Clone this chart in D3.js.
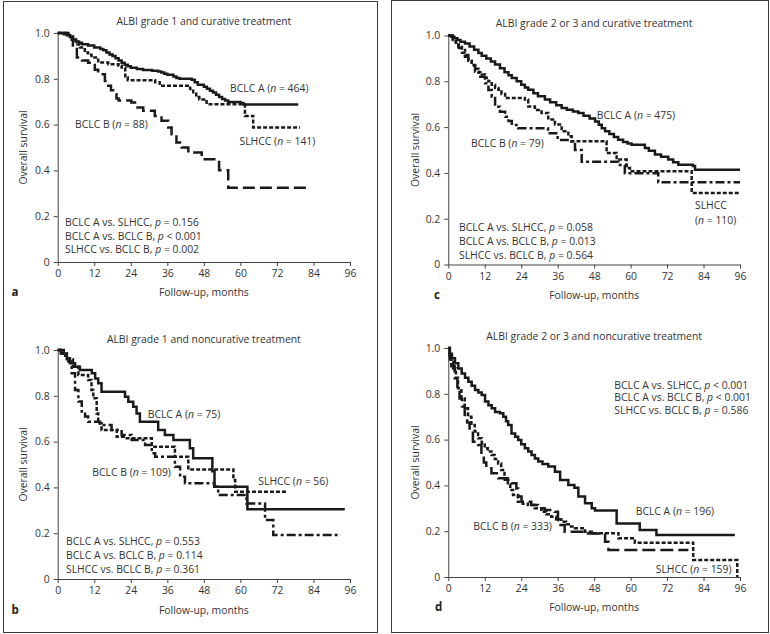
<!DOCTYPE html>
<html><head><meta charset="utf-8">
<script src="https://cdn.jsdelivr.net/npm/d3@7"></script>
<style>
html,body{margin:0;padding:0;background:#fff;}
svg text{font-family:"Open Sans",sans-serif;}
</style>
</head><body>
<svg id="chart" width="770" height="634"></svg>
<script>
// ---------- data ----------
const xTicks = [0, 12, 24, 36, 48, 60, 72, 84, 96];
const yTicks = [0, 0.2, 0.4, 0.6, 0.8, 1.0];
const yTickLabels = ["0", "0.2", "0.4", "0.6", "0.8", "1.0"];
const panelLetters = ["a", "b", "c", "d"];
const panelTitles = [
  "ALBI grade 1 and curative treatment",
  "ALBI grade 1 and noncurative treatment",
  "ALBI grade 2 or 3 and curative treatment",
  "ALBI grade 2 or 3 and noncurative treatment"
];
const groupNames = ["BCLC A", "SLHCC", "BCLC B"];
const comparisons = ["BCLC A vs. SLHCC", "BCLC A vs. BCLC B", "SLHCC vs. BCLC B"];
// n per group [BCLC A, SLHCC, BCLC B]
const nA = [464, 141, 88];
const nB = [75, 56, 109];
const nC = [475, 110, 79];
const nD = [196, 159, 333];
// p-values [A vs SLHCC, A vs B, SLHCC vs B]
const pA = ["= 0.156", "< 0.001", "= 0.002"];
const pB = ["= 0.553", "= 0.114", "= 0.361"];
const pC = ["= 0.058", "= 0.013", "= 0.564"];
const pD = ["< 0.001", "< 0.001", "= 0.586"];

// Kaplan-Meier curves: [month, survival]
const aBclcA = [[0,1],[2,0.995],[3,0.99],[4,0.982],[5,0.972],[6,0.963],[7,0.957],[8,0.951],[10,0.945],[12,0.937],[14,0.93],[15,0.925],[16,0.915],[17,0.906],[18,0.9],[19,0.89],[20,0.88],[21,0.87],[22,0.861],[23,0.855],[24,0.848],[26,0.843],[28,0.838],[31,0.835],[33,0.832],[34,0.827],[35,0.822],[36,0.818],[38,0.81],[39,0.804],[40,0.8],[44,0.796],[45,0.785],[46,0.774],[48,0.765],[49,0.757],[50,0.748],[51,0.74],[52,0.73],[53,0.72],[54,0.712],[55,0.705],[56,0.699],[60,0.694],[61,0.688],[79,0.688]];
const aSlhcc = [[0,1],[3,0.99],[4.6,0.97],[6,0.95],[7.3,0.937],[8.9,0.915],[10,0.905],[11.1,0.893],[13.3,0.871],[16.6,0.864],[20,0.857],[21,0.849],[22.2,0.806],[23,0.794],[32,0.785],[33.5,0.77],[43.5,0.755],[44.5,0.735],[45.5,0.72],[46.5,0.71],[48.9,0.689],[61.5,0.638],[64.2,0.587],[79.6,0.587]];
const aBclcB = [[0,1],[4.5,0.985],[5,0.937],[6.3,0.893],[8,0.88],[10,0.87],[12.2,0.84],[13.3,0.82],[15.5,0.79],[16.6,0.77],[17.5,0.75],[18.2,0.733],[19.3,0.714],[20,0.705],[24.2,0.696],[25.4,0.675],[28.1,0.66],[31.9,0.638],[34.1,0.617],[36.3,0.587],[37.4,0.558],[39,0.522],[40.7,0.5],[42.9,0.478],[47.3,0.449],[53,0.401],[56,0.324],[81.8,0.324]];

const bBclcA = [[0,1],[1,0.985],[3,0.964],[4,0.942],[5.7,0.927],[7.3,0.913],[11.2,0.898],[12.3,0.876],[13.3,0.855],[14.4,0.818],[22.1,0.796],[23.2,0.774],[24.8,0.752],[25.9,0.723],[27,0.687],[33,0.651],[35.2,0.629],[38,0.607],[43.4,0.571],[44.5,0.527],[50.8,0.47],[51.5,0.403],[62.3,0.305],[94.3,0.305]];
const bSlhcc = [[0,1],[1.5,0.985],[3,0.96],[5,0.927],[6.8,0.891],[10,0.869],[11.1,0.825],[11.7,0.789],[12.8,0.723],[13.3,0.68],[14.4,0.651],[19.4,0.621],[22.1,0.615],[30.9,0.578],[38.5,0.534],[42.9,0.478],[57.7,0.432],[58.3,0.381],[75.2,0.381]];
const bBclcB = [[0,1],[2,0.975],[3.5,0.95],[4.6,0.898],[5.7,0.825],[6.8,0.775],[7.9,0.731],[9,0.71],[10,0.687],[13.9,0.672],[17.7,0.651],[21,0.629],[24.3,0.607],[28.7,0.585],[30.9,0.549],[32,0.534],[38.5,0.49],[40.2,0.447],[41.8,0.418],[51.4,0.403],[52.7,0.367],[62,0.33],[68.1,0.258],[70.8,0.192],[93,0.192]];

const cBclcA = [[0,1],[1,0.995],[2,0.988],[3,0.98],[4,0.973],[5.5,0.965],[7,0.952],[8.5,0.938],[9.9,0.924],[11,0.912],[12.5,0.9],[14,0.886],[15.4,0.873],[17,0.857],[18.5,0.84],[19.8,0.826],[20.9,0.814],[22.5,0.8],[24,0.785],[25.2,0.773],[26.3,0.763],[28,0.748],[29.5,0.735],[31.8,0.72],[33.5,0.708],[35.5,0.695],[37.3,0.683],[39,0.676],[41,0.668],[42.8,0.662],[44.5,0.65],[46.5,0.638],[48.3,0.625],[49.5,0.61],[50.5,0.595],[51.6,0.582],[53,0.57],[54.5,0.557],[55.9,0.545],[57.5,0.535],[59,0.528],[60.3,0.523],[64.7,0.509],[66,0.497],[68,0.48],[70,0.47],[72.4,0.458],[74,0.447],[75.7,0.436],[80.5,0.43],[81.2,0.414],[96,0.414]];
const cSlhcc = [[0,1],[1.5,0.98],[2.5,0.96],[3.3,0.95],[4.5,0.925],[5.5,0.907],[6.6,0.89],[7.7,0.871],[8.8,0.855],[9.9,0.84],[11,0.83],[12.1,0.815],[13.2,0.8],[14.3,0.785],[15.4,0.771],[16.5,0.763],[17.5,0.745],[18.7,0.727],[25.2,0.72],[26.3,0.69],[28.5,0.675],[30.7,0.662],[32.9,0.633],[35.1,0.611],[37.3,0.582],[39.5,0.56],[40.6,0.538],[52.1,0.487],[55.4,0.458],[58.7,0.421],[59.8,0.407],[80.1,0.312],[96,0.312]];
const cBclcB = [[0,1],[1.5,0.975],[2.5,0.96],[3.5,0.945],[4.4,0.937],[5.5,0.915],[6.6,0.893],[7.7,0.87],[8.8,0.842],[10,0.82],[12.1,0.791],[13.2,0.762],[14.3,0.733],[15.4,0.689],[17,0.667],[18.7,0.645],[19.8,0.627],[20.9,0.609],[23,0.595],[32.8,0.573],[36,0.544],[40.5,0.537],[41.7,0.5],[43.9,0.449],[56,0.434],[58.1,0.398],[69.1,0.359],[96,0.359]];

const dBclcA = [[0,1],[0.5,0.975],[1.2,0.955],[2.2,0.933],[3.3,0.91],[4.4,0.889],[5.5,0.87],[6.6,0.853],[7.7,0.835],[8.8,0.817],[9.9,0.806],[11,0.795],[12.1,0.766],[13.2,0.75],[14.3,0.737],[15.4,0.72],[17,0.715],[18.1,0.7],[19,0.68],[19.7,0.664],[20.8,0.627],[22,0.612],[23,0.598],[24,0.58],[25.2,0.562],[26.3,0.548],[27.4,0.533],[28.5,0.518],[29.6,0.504],[31,0.493],[32.9,0.482],[35.1,0.46],[36.8,0.424],[39.5,0.402],[41.5,0.39],[42.8,0.351],[45,0.322],[47.2,0.3],[48.3,0.29],[55.4,0.234],[63,0.205],[68.5,0.183],[94.3,0.183]];
const dSlhcc = [[0,1],[0.5,0.97],[1,0.94],[1.6,0.911],[2.5,0.87],[3.2,0.824],[4.3,0.78],[5.4,0.737],[6.5,0.7],[7.6,0.664],[8.7,0.635],[9.8,0.606],[11,0.585],[12,0.562],[13,0.548],[14.2,0.533],[15.3,0.515],[16.4,0.496],[17.4,0.467],[18.5,0.431],[19.6,0.402],[20.4,0.38],[21.3,0.358],[22.9,0.329],[24.5,0.32],[26.2,0.314],[28.4,0.3],[30.6,0.285],[32.2,0.274],[33.9,0.263],[35.5,0.252],[37.2,0.241],[38.8,0.23],[40.4,0.22],[41.7,0.213],[45,0.198],[47.2,0.191],[56,0.169],[61.4,0.15],[80.6,0.074],[95,0.074],[95.1,0]];
const dBclcB = [[0,1],[0.5,0.95],[1,0.92],[2.1,0.868],[3,0.82],[3.7,0.78],[4.5,0.745],[5.4,0.707],[6.2,0.675],[7,0.649],[8.1,0.591],[9.8,0.576],[10.9,0.533],[11.7,0.5],[12.5,0.475],[14.2,0.453],[16.4,0.431],[18.6,0.425],[20.7,0.409],[22.4,0.387],[23,0.351],[24.1,0.329],[27.3,0.314],[29.5,0.3],[31.7,0.293],[35,0.285],[36.1,0.227],[38.3,0.198],[46,0.19],[51.6,0.154],[52.7,0.118],[79,0.118]];

// ---------- layout / style ----------
const svg = d3.select("#chart");
const ink = "#1a1a1a", textCol = "#333", axisCol = "#444";
const fs = 10.4;
const dashShort = "4,2", dashLong = "12,5", dashDot = "9,3,3,3";

// column frames
svg.append("rect").attr("x", 3.5).attr("y", 1.5).attr("width", 374).attr("height", 631)
  .attr("fill", "none").attr("stroke", "#3a3a3a").attr("stroke-width", 1);
svg.append("rect").attr("x", 391.5).attr("y", 0.5).attr("width", 377).attr("height", 632)
  .attr("fill", "none").attr("stroke", "#3a3a3a").attr("stroke-width", 1);

const panels = [
  { letter: panelLetters[0], title: panelTitles[0], xr: [57.7, 350], yr: [262, 33],
    series: [aBclcA, aSlhcc, aBclcB], dash: [null, dashShort, dashLong], n: nA, p: pA,
    titleY: 24.5, xlabY: 296, letterX: 11.5, ylabX: 27,
    lab: [[230, 92], [239.5, 145], [75, 128]], pX: 65, pY: [225.5, 239.5, 253], slhccSplit: false },
  { letter: panelLetters[1], title: panelTitles[1], xr: [57.7, 350], yr: [579, 350],
    series: [bBclcA, bSlhcc, bBclcB], dash: [null, dashShort, dashDot], n: nB, p: pB,
    titleY: 342.5, xlabY: 613.5, letterX: 11.5, ylabX: 27,
    lab: [[147.7, 418], [258.3, 485], [92.3, 476]], pX: 66, pY: [545, 559, 572.5], slhccSplit: false },
  { letter: panelLetters[2], title: panelTitles[2], xr: [448.3, 740], yr: [264.5, 35.5],
    series: [cBclcA, cSlhcc, cBclcB], dash: [null, dashShort, dashDot], n: nC, p: pC,
    titleY: 27, xlabY: 298.5, letterX: 434, ylabX: 419,
    lab: [[596.7, 118.5], [695, 208.5], [471, 147]], pX: 459, pY: [231, 245, 258.5], slhccSplit: true },
  { letter: panelLetters[3], title: panelTitles[3], xr: [448.3, 740], yr: [577, 348],
    series: [dBclcA, dSlhcc, dBclcB], dash: [null, dashShort, "13,5"], n: nD, p: pD,
    titleY: 340, xlabY: 611, letterX: 435, ylabX: 419,
    lab: [[635.7, 515], [655.7, 573], [473.3, 530]], pX: 614.3, pY: [388.5, 401, 414], slhccSplit: false }
];

function addLabel(g, x, y, parts) {
  const t = g.append("text").attr("x", x).attr("y", y).attr("font-size", fs).attr("fill", textCol);
  parts.forEach(([s, it]) => t.append("tspan").text(s).attr("font-style", it ? "italic" : null));
  return t;
}

panels.forEach(P => {
  const g = svg.append("g");
  const x = d3.scaleLinear().domain([0, 96]).range(P.xr);
  const y = d3.scaleLinear().domain([0, 1]).range(P.yr);

  // axes
  const xa = g.append("g").attr("transform", `translate(0,${P.yr[0]})`)
    .call(d3.axisBottom(x).tickValues(xTicks).tickSize(4).tickSizeOuter(0).tickPadding(4));
  const ya = g.append("g").attr("transform", `translate(${P.xr[0]},0)`)
    .call(d3.axisLeft(y).tickValues(yTicks).tickFormat((d, i) => yTickLabels[i]).tickSize(4).tickSizeOuter(0).tickPadding(4));
  [xa, ya].forEach(a => {
    a.selectAll("path,line").attr("stroke", axisCol).attr("stroke-width", 1);
    a.selectAll("text").attr("font-size", fs).attr("fill", textCol).attr("font-family", "Open Sans, sans-serif");
  });

  // curves
  const line = d3.line().x(d => x(d[0])).y(d => y(d[1])).curve(d3.curveStepAfter);
  P.series.forEach((s, i) => {
    g.append("path").datum(s).attr("d", line).attr("fill", "none")
      .attr("stroke", ink).attr("stroke-width", 2.5)
      .attr("stroke-dasharray", P.dash[i]);
  });

  // title, axis labels
  const cx = (P.xr[0] + P.xr[1]) / 2;
  g.append("text").attr("x", cx).attr("y", P.titleY).attr("text-anchor", "middle")
    .attr("font-size", fs).attr("fill", textCol).text(P.title);
  g.append("text").attr("x", cx).attr("y", P.xlabY).attr("text-anchor", "middle")
    .attr("font-size", fs).attr("fill", textCol).text("Follow-up, months");
  g.append("text").attr("x", P.letterX).attr("y", P.xlabY).attr("font-size", 11.5)
    .attr("font-weight", "bold").attr("fill", "#222").text(P.letter);
  const cy = (P.yr[0] + P.yr[1]) / 2;
  g.append("text").attr("transform", `translate(${P.ylabX},${cy}) rotate(-90)`)
    .attr("text-anchor", "middle").attr("font-size", fs).attr("fill", textCol).text("Overall survival");

  // group labels
  groupNames.forEach((name, i) => {
    const [lx, ly] = P.lab[i];
    if (P.slhccSplit && i === 1) {
      addLabel(g, lx, ly, [[name, false]]);
      addLabel(g, lx, ly + 15, [["(", false], ["n", true], [` = ${P.n[i]})`, false]]);
    } else {
      addLabel(g, lx, ly, [[`${name} (`, false], ["n", true], [` = ${P.n[i]})`, false]]);
    }
  });

  // p-values
  comparisons.forEach((c, i) => {
    addLabel(g, P.pX, P.pY[i], [[`${c}, `, false], ["p", true], [` ${P.p[i]}`, false]]);
  });
});
</script>
</body></html>
